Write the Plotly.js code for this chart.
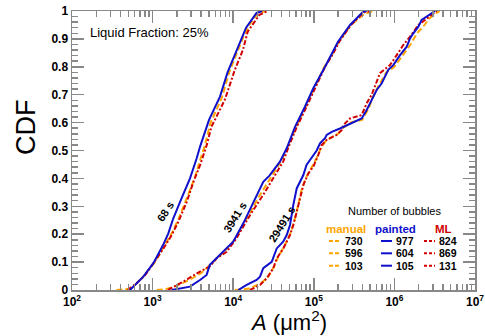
<!DOCTYPE html>
<html>
<head>
<meta charset="utf-8">
<script src="https://cdn.plot.ly/plotly-3.0.1.min.js"></script>
<style>
  html, body { margin:0; padding:0; background:#fff; }
  #chart { width:485px; height:336px; }
</style>
</head>
<body>
<div id="chart"></div>
<script>
// bubble areas A (um^2) and CDF values
// --- 68 s ---
const man68_A   = [355, 537, 676, 891, 1072, 1413, 1778, 2138, 2692, 3311, 3981, 4467, 5248, 7244, 8913, 11220, 13490, 15850, 19950, 25120];
const man68_cdf = [0, 0.005, 0.03, 0.07, 0.10, 0.16, 0.21, 0.26, 0.33, 0.40, 0.475, 0.52, 0.60, 0.69, 0.78, 0.85, 0.91, 0.95, 0.99, 1.0];
const pai68_A   = [525, 603, 767, 1023, 1349, 1567, 1807, 2291, 2911, 3524, 3890, 5012, 6855, 8511, 10720, 12590, 14450, 19500, 22900];
const pai68_cdf = [0, 0.018, 0.048, 0.096, 0.161, 0.203, 0.257, 0.329, 0.40, 0.472, 0.515, 0.61, 0.693, 0.78, 0.85, 0.90, 0.94, 0.993, 1.0];
const ml68_A    = [490, 631, 813, 1023, 1365, 1726, 2089, 2661, 3214, 3890, 4700, 5370, 7850, 10470, 13180, 15140, 21130, 26900];
const ml68_cdf  = [0, 0.024, 0.054, 0.096, 0.149, 0.197, 0.245, 0.317, 0.388, 0.448, 0.52, 0.585, 0.681, 0.789, 0.86, 0.926, 0.986, 1.0];

// --- 3941 s ---
const man3941_A   = [1122, 1413, 1995, 2818, 3981, 5623, 7586, 10470, 14790, 20890, 28840, 39810, 47860, 60260, 79430, 102300, 134900, 173800, 204200, 288400, 426600, 549500];
const man3941_cdf = [0, 0.002, 0.015, 0.035, 0.06, 0.10, 0.135, 0.18, 0.26, 0.335, 0.40, 0.465, 0.515, 0.585, 0.657, 0.723, 0.80, 0.85, 0.89, 0.95, 0.99, 1.0];
const pai3941_A   = [1726, 2291, 2911, 3873, 4677, 5129, 7534, 10000, 13340, 17780, 23600, 28180, 38020, 46130, 58480, 77620, 98620, 138000, 166000, 199500, 281800, 411100, 452900];
const pai3941_cdf = [0, 0.006, 0.012, 0.036, 0.054, 0.09, 0.137, 0.173, 0.239, 0.317, 0.388, 0.41, 0.46, 0.508, 0.585, 0.657, 0.723, 0.80, 0.848, 0.89, 0.95, 0.998, 1.0];
const ml3941_A    = [1549, 2399, 3873, 5129, 6237, 8318, 10960, 16220, 23440, 31620, 41690, 48980, 61660, 81280, 103500, 138000, 174600, 207000, 288400, 416900, 501200];
const ml3941_cdf  = [0, 0.03, 0.066, 0.084, 0.114, 0.137, 0.185, 0.269, 0.34, 0.40, 0.46, 0.515, 0.585, 0.657, 0.723, 0.80, 0.848, 0.89, 0.95, 0.995, 1.0];

// --- 29491 s ---
const man29491_A   = [10470, 15850, 22390, 27540, 32360, 36310, 43650, 52480, 58880, 64570, 70790, 79430, 93330, 107200, 123000, 141300, 199500, 229100, 281800, 398100, 478600, 537000, 631000, 794300, 1000000, 1259000, 1585000, 1905000, 2291000, 2754000, 3631000];
const man29491_cdf = [0, 0.005, 0.025, 0.05, 0.085, 0.12, 0.16, 0.21, 0.26, 0.31, 0.36, 0.40, 0.435, 0.47, 0.51, 0.535, 0.56, 0.58, 0.60, 0.61, 0.65, 0.69, 0.73, 0.78, 0.80, 0.84, 0.88, 0.92, 0.945, 0.975, 1.0];
const pai29491_A   = [11560, 14690, 19500, 21530, 23600, 30060, 34670, 41690, 46130, 50700, 55720, 61380, 74130, 81280, 89740, 108600, 119400, 137700, 144500, 166700, 211300, 255900, 392600, 452900, 497700, 602600, 696600, 839500, 968300, 1175000, 1422000, 1563000, 1718000, 1982000, 2178000, 2512000, 2904000, 3192000];
const pai29491_cdf = [0, 0.018, 0.036, 0.048, 0.078, 0.101, 0.149, 0.173, 0.197, 0.233, 0.305, 0.364, 0.412, 0.448, 0.466, 0.50, 0.526, 0.544, 0.556, 0.567, 0.579, 0.591, 0.615, 0.645, 0.669, 0.717, 0.741, 0.789, 0.806, 0.842, 0.872, 0.902, 0.92, 0.944, 0.968, 0.98, 0.992, 1.0];
const ml29491_A    = [16140, 21530, 26060, 31410, 34670, 41880, 50700, 55720, 61380, 67450, 74130, 85510, 98620, 113800, 125300, 144500, 192300, 221800, 232300, 281200, 392600, 452900, 522400, 662200, 881000, 1069000, 1288000, 1563000, 1982000, 2399000, 3350000];
const ml29491_cdf  = [0, 0.018, 0.042, 0.078, 0.113, 0.149, 0.197, 0.233, 0.28, 0.329, 0.376, 0.418, 0.442, 0.484, 0.52, 0.538, 0.556, 0.573, 0.591, 0.615, 0.627, 0.669, 0.70, 0.777, 0.806, 0.842, 0.878, 0.908, 0.95, 0.968, 1.0];

// legend table: number of bubbles per method (rows: 68 s, 3941 s, 29491 s)
const methods   = ['manual', 'painted', 'ML'];
const nManual   = [730, 596, 103];
const nPainted  = [977, 604, 105];
const nML       = [824, 869, 131];
const timeLabels = ['68 s', '3941 s', '29491 s'];

const xTickVals = [1e2, 1e3, 1e4, 1e5, 1e6, 1e7];
const xTickText = ['10<sup>2</sup>', '10<sup>3</sup>', '10<sup>4</sup>', '10<sup>5</sup>', '10<sup>6</sup>', '10<sup>7</sup>'];
const yTickVals = [0, 0.1, 0.2, 0.3, 0.4, 0.5, 0.6, 0.7, 0.8, 0.9, 1];
const yTickText = ['0', '0.1', '0.2', '0.3', '0.4', '0.5', '0.6', '0.7', '0.8', '0.9', '1'];

const ORANGE = '#ffa500', BLUE = '#1010cc', RED = '#d00000';
const FONT = 'Liberation Sans, Arial, Helvetica, sans-serif';

function line(x, y, color, dash){
  return { x: x, y: y, mode: 'lines', line: {color: color, width: 2, dash: dash}, showlegend: false, hoverinfo: 'skip' };
}

const data = [
  line(man68_A, man68_cdf, ORANGE, '6px,3px'),
  line(man3941_A, man3941_cdf, ORANGE, '6px,3px'),
  line(man29491_A, man29491_cdf, ORANGE, '6px,3px'),
  line(ml68_A, ml68_cdf, RED, '5px,2px,2px,2px'),
  line(ml3941_A, ml3941_cdf, RED, '5px,2px,2px,2px'),
  line(ml29491_A, ml29491_cdf, RED, '5px,2px,2px,2px'),
  line(pai68_A, pai68_cdf, BLUE, 'solid'),
  line(pai3941_A, pai3941_cdf, BLUE, 'solid'),
  line(pai29491_A, pai29491_cdf, BLUE, 'solid')
];

// minor tick positions on the log axis (2..9 in each decade)
const xMinor = [];
for (let d = 2; d < 7; d++) for (let k = 2; k <= 9; k++) xMinor.push(k * Math.pow(10, d));

// plot area in pixels: x 72..475, y 11..290
const L = 72, R = 475, T = 11, B = 290;
const px = v => (v - L) / (R - L);
const py = v => (B - v) / (B - T);

const annotations = [
  {text: 'CDF', x: px(26), y: py(127), textangle: -90, font: {size: 27, color: '#000'}},
  {text: '<i>A</i> (μm<sup>2</sup>)', x: px(288), y: py(321), font: {size: 22, color: '#000'}},
  {text: 'Liquid Fraction: 25%', x: px(88), y: py(32), xanchor: 'left', font: {size: 13, color: '#000'}},
  {text: timeLabels[0], x: px(165), y: py(212), textangle: -58, font: {size: 11, weight: 'bold', color: '#000'}},
  {text: timeLabels[1], x: px(235), y: py(217), textangle: -58, font: {size: 11, weight: 'bold', color: '#000'}},
  {text: timeLabels[2], x: px(282), y: py(224), textangle: -58, font: {size: 11, weight: 'bold', color: '#000'}},
  {text: 'Number of bubbles', x: px(394), y: py(211), font: {size: 11, color: '#000'}},
  {text: methods[0], x: px(346), y: py(229), font: {size: 11.5, weight: 'bold', color: ORANGE}},
  {text: methods[1], x: px(395), y: py(229), font: {size: 11.5, weight: 'bold', color: BLUE}},
  {text: methods[2], x: px(443), y: py(229), font: {size: 11.5, weight: 'bold', color: RED}}
];
const shapes = [];
const rowY = [241, 253.3, 265.7];
const cols = [
  {n: nManual, color: ORANGE, dash: '4px,2px', x0: 329, x1: 341, tx: 343},
  {n: nPainted, color: BLUE, dash: 'solid', x0: 381, x1: 392, tx: 394},
  {n: nML, color: RED, dash: '3px,2px', x0: 424, x1: 435, tx: 437}
];
cols.forEach(c => {
  c.n.forEach((n, i) => {
    annotations.push({text: String(n), x: px(c.tx), y: py(rowY[i]), xanchor: 'left', font: {size: 10.5, weight: 'bold', color: '#000'}});
    shapes.push({type: 'line', xref: 'paper', yref: 'paper', x0: px(c.x0), x1: px(c.x1), y0: py(rowY[i]), y1: py(rowY[i]),
      line: {color: c.color, width: 2, dash: c.dash}});
  });
});
annotations.forEach(a => {
  a.xref = 'paper'; a.yref = 'paper'; a.showarrow = false;
  if (!a.xanchor) a.xanchor = 'center';
  a.yanchor = 'middle';
  a.font.family = FONT;
});

const axisCommon = {
  showgrid: false, zeroline: false, showline: true, linecolor: '#888', linewidth: 1.5,
  mirror: 'ticks', ticks: 'inside', ticklen: 12, tickwidth: 1.5, tickcolor: '#888',
  tickfont: {family: FONT, size: 12, weight: 'bold', color: '#000'}
};

const layout = {
  width: 485, height: 336,
  margin: {l: L, r: 485 - R, t: T, b: 336 - B},
  paper_bgcolor: '#fff', plot_bgcolor: '#fff',
  font: {family: FONT},
  xaxis: Object.assign({}, axisCommon, {
    type: 'log', range: [2, 7], tickmode: 'array', tickvals: xTickVals, ticktext: xTickText,
    minor: {tickmode: 'array', tickvals: xMinor, ticks: 'inside', ticklen: 6, tickwidth: 1.5, tickcolor: '#888', showgrid: false}
  }),
  yaxis: Object.assign({}, axisCommon, {
    range: [0, 1], tickmode: 'array', tickvals: yTickVals, ticktext: yTickText,
    minor: {dtick: 0.02, ticks: 'inside', ticklen: 6, tickwidth: 1.5, tickcolor: '#888', showgrid: false}
  }),
  annotations: annotations,
  shapes: shapes,
  showlegend: false
};

Plotly.newPlot('chart', data, layout, {displayModeBar: false, staticPlot: true});
</script>
</body>
</html>
